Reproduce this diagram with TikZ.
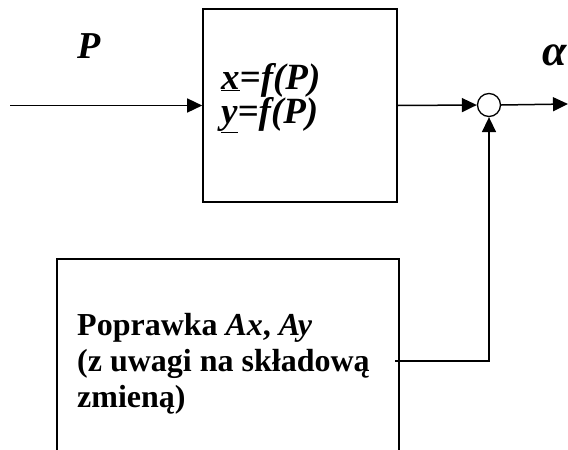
\documentclass[tikz,border=0pt]{standalone}
\usepackage{fontspec}
\setmainfont{Liberation Serif}
\usetikzlibrary{arrows.meta}
\tikzset{
  blk/.style={draw, line width=1.6pt, inner sep=0pt},
  arr/.style={line width=1.5pt, -{Triangle[length=15pt,width=14pt]}},
  ln/.style={line width=1.5pt},
  sumnode/.style={draw, circle, line width=1.3pt, minimum size=23pt, inner sep=0pt},
}
\begin{document}
\begin{tikzpicture}[x=1pt,y=-1pt]
\useasboundingbox (0,0) rectangle (568,450);
\clip (0,0) rectangle (568,450);
% top block
\node[blk, minimum width=194pt, minimum height=193pt] (f) at (300,105.5) {};
\node[anchor=base west, align=left, inner sep=0pt, font=\fontsize{37}{34}\selectfont\bfseries\itshape] (ftext) at (221,123)
  {\underline{x}=\textit{f}(\textit{P})\\\underline{y}=\textit{f}(\textit{P})};
% summing point
\node[sumnode] (sum) at (489,105) {};
% correction block (open at the bottom)
\node[blk, minimum width=342pt, minimum height=260pt] (corr) at (228,389) {};
\node[anchor=base west, align=left, inner sep=0pt, font=\fontsize{32}{36}\selectfont\bfseries] (ctext) at (77,407)
  {Poprawka \textit{Ax}, \textit{Ay}\\(z uwagi na składową\\zmieną)};
% labels
\node[anchor=base west, inner sep=0pt, font=\fontsize{38}{40}\selectfont\bfseries\itshape] (lp) at (77,58) {P};
\node[anchor=base west, inner sep=0pt, font=\fontsize{44}{46}\selectfont\bfseries\itshape] (la) at (542,65) {α};
% connectors
\coordinate (in) at (10,105.5);
\coordinate (out) at (568,104);
\coordinate (tap) at (395,361);
\draw[arr] (tap) -| (sum.south);
\draw[arr] (in) -- (f.west);
\draw[arr] (f.east) -- (sum.west);
\draw[arr] (sum.east) -- (out);
\end{tikzpicture}
\end{document}
